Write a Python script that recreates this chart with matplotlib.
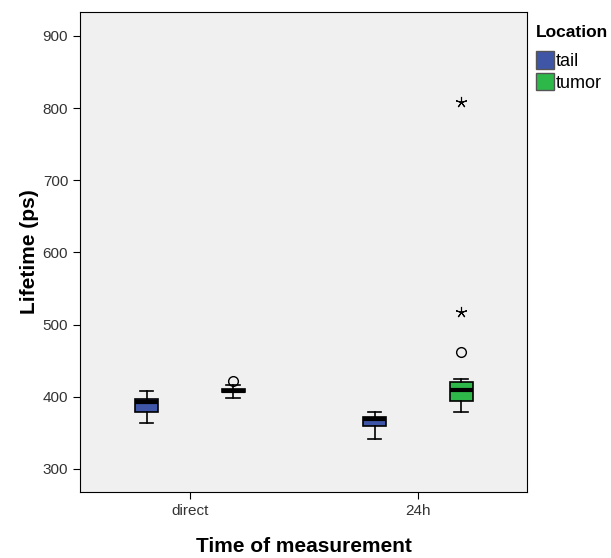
import matplotlib.pyplot as plt
from matplotlib.patches import Patch

plt.rcParams['font.family'] = ['Liberation Sans', 'DejaVu Sans']

times = ["direct", "24h"]
locations = ["tail", "tumor"]
colors = ["#3f55a6", "#2fb84a"]

# box stats per location, per time: (whislo, q1, med, q3, whishi)
box_stats = {
    "tail": [(364, 379, 392, 397, 408), (341, 359, 369, 372, 379)],
    "tumor": [(398, 406, 408, 410.5, 416), (379, 394, 409, 420, 425)],
}
# outliers: circles (mild) and stars (extreme)
circle_out = {"tail": [[], []], "tumor": [[422], [462]]}
star_out = {"tail": [[], []], "tumor": [[], [517, 808]]}


def main():
    fig = plt.figure(figsize=(6.11, 5.58), dpi=100)
    ax = fig.add_axes([80 / 611, 1 - 492 / 558, 447 / 611, 480 / 558])
    ax.set_facecolor("#f0f0f0")

    offsets = [-0.19, 0.19]
    for loc, off, col in zip(locations, offsets, colors):
        stats = []
        for i, t in enumerate(times):
            lo, q1, med, q3, hi = box_stats[loc][i]
            stats.append(dict(whislo=lo, q1=q1, med=med, q3=q3, whishi=hi, fliers=[]))
        pos = [i + off for i in range(len(times))]
        ax.bxp(stats, positions=pos, widths=0.1, patch_artist=True, showfliers=False,
               boxprops=dict(facecolor=col, edgecolor="black", linewidth=1.2),
               medianprops=dict(color="black", linewidth=3),
               whiskerprops=dict(color="black", linewidth=1.2),
               capprops=dict(color="black", linewidth=1.2), capwidths=0.06,
               manage_ticks=False)
        for i in range(len(times)):
            ys = circle_out[loc][i]
            ax.plot([pos[i]] * len(ys), ys, "o", mfc="none", mec="black", ms=7, mew=1)
            ys = star_out[loc][i]
            ax.plot([pos[i]] * len(ys), ys, marker=(5, 2), ls="none", color="black", ms=8, mew=0.8)

    ax.set_xlim(-0.482, 1.478)
    ax.set_ylim(268, 933)
    ax.set_xticks(range(len(times)))
    ax.set_xticklabels(times)
    ax.set_yticks(range(300, 1000, 100))
    ax.tick_params(labelsize=11, labelcolor="#333333", length=5)
    ax.set_xlabel("Time of measurement", fontsize=15, fontweight="bold", labelpad=14)
    ax.set_ylabel("Lifetime (ps)", fontsize=15, fontweight="bold", labelpad=3)

    handles = [Patch(facecolor=c, edgecolor="#555555", label=l) for c, l in zip(colors, locations)]
    leg = fig.legend(handles=handles, title="Location", loc="upper left",
                     bbox_to_anchor=(529 / 611, 1 - 18 / 558), frameon=False,
                     fontsize=13, handlelength=1.0, handleheight=1.1,
                     handletextpad=0.1, labelspacing=0.15, borderaxespad=0)
    leg.get_title().set_fontweight("bold")
    leg.get_title().set_fontsize(12.5)
    leg._legend_box.align = "left"
    leg._legend_box.sep = 8

    fig.savefig("out.png", dpi=100)


if __name__ == "__main__":
    main()
